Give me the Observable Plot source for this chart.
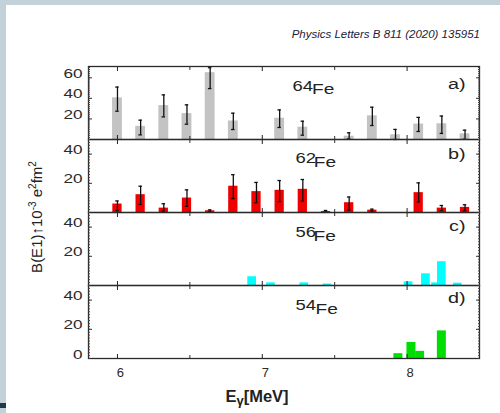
<!DOCTYPE html>
<html>
<head>
<meta charset="utf-8">
<script src="https://cdn.jsdelivr.net/npm/d3@7"></script>
<script src="https://cdn.jsdelivr.net/npm/@observablehq/plot@0.6"></script>
<style>
  html, body { margin: 0; padding: 0; }
  body { width: 500px; height: 413px; position: relative; overflow: hidden; background: #c3d1d8;
         font-family: "Liberation Sans", Arial, sans-serif; }
  #page { position: absolute; left: 6px; top: 5px; right: 0; bottom: 0; background: #fff; }
  #strip { position: absolute; left: 0; top: 403px; width: 6px; height: 5px; background: #1d3a4a; }
  .panel { position: absolute; left: 0; }
  #overlay { position: absolute; left: 0; top: 0; }
</style>
</head>
<body>
<div id="page"></div>
<div id="strip"></div>
<div id="charts"></div>
<svg id="overlay" width="500" height="413" xmlns="http://www.w3.org/2000/svg"></svg>
<script>
// ---------- data ----------
const energyGrid = [6.00, 6.16, 6.32, 6.48, 6.64, 6.80, 6.96, 7.12, 7.28, 7.44, 7.60, 7.76, 7.92, 8.08, 8.24, 8.40];

const fe64Value = [40.5, 12.8, 33.0, 25.2, 65.0, 18.0, null, 20.7, 12.0, null, 3.2, 23.0, 4.6, 15.0, 15.3, 5.5];
const fe64Low   = [27.5,  4.5, 22.0, 14.9, 49.5,  9.7, null, 11.7,  4.2, null, 0.6, 13.6, 0.0,  7.8,  5.9, 0.3];
const fe64High  = [51.0, 18.8, 43.4, 33.7, 69.8, 25.6, null, 28.8, 17.8, null, 6.5, 31.4, 9.8, 21.5, 22.8, 9.1];

const fe62Value = [5.8, 12.2, 3.0,  9.9, 1.2, 18.0, 14.3, 15.2, 15.9, 0.7,  6.7, 1.6, null, 13.6, 3.0, 3.5];
const fe62Low   = [1.4,  5.5, 1.0,  4.2, 0.5,  9.5,  6.7,  7.4,  7.9, 0.2,  1.6, 1.0, null,  7.2, 1.2, 1.2];
const fe62High  = [7.9, 18.0, 6.0, 15.5, 1.8, 25.9, 20.6, 21.9, 22.6, 1.4, 10.6, 2.3, null, 20.3, 4.8, 5.3];

const fe56Energy = [6.93, 7.06, 7.29, 7.45, 8.01, 8.13, 8.20, 8.24, 8.35];
const fe56Value  = [6.0,  1.8,  1.8,  1.0,  2.5,  8.0,  1.8, 16.3, 1.6];

const fe54Energy = [7.94, 8.03, 8.09, 8.24];
const fe54Value  = [3.3, 11.0,  4.9, 18.9];

const xDomain = [5.8, 8.5];
const xTicks = [6, 7, 8];
const xMinorTicks = [6.5, 7.5];
const yTicksA = [20, 40, 60];
const yTicksB = [20, 40];
const yTicksC = [20, 40];
const yTicksD = [0, 20, 40];

const panelNames = ["a)", "b)", "c)", "d)"];
const massNumbers = ["64", "62", "56", "54"];
const element = "Fe";

// ---------- rows ----------
function gridRows(vals, lo, hi) {
  return energyGrid.map((e, i) => ({e, v: vals[i], lo: lo ? lo[i] : null, hi: hi ? hi[i] : null}))
                   .filter(d => d.v != null);
}
function listRows(es, vals) { return es.map((e, i) => ({e, v: vals[i]})); }

const FONT = "'Liberation Sans', Arial, Helvetica, sans-serif";
const STRETCH = 1.32;

function tickOnlyY(anchor, ticks, size, stroke) {
  return Plot.axisY({anchor, ticks, tickSize: size, fill: "none", label: null, stroke});
}
function tickOnlyX(anchor, ticks, size, stroke) {
  return Plot.axisX({anchor, ticks, tickSize: size, fill: "none", label: null, stroke});
}

function panel(cfg) {
  const {rows, color, hw, yMax, yTicks, errors, last, lab} = cfg;
  const capHw = 0.012;
  const marks = [
    Plot.rect(rows, {x1: d => d.e - hw, x2: d => d.e + hw, y1: 0, y2: "v", fill: color}),
  ];
  if (errors) {
    marks.push(
      Plot.ruleX(rows, {x: "e", y1: "lo", y2: "hi", stroke: "#111", strokeWidth: 1.3}),
      Plot.ruleY(rows, {y: "lo", x1: d => d.e - capHw, x2: d => d.e + capHw, stroke: "#111", strokeWidth: 1.3}),
      Plot.ruleY(rows, {y: "hi", x1: d => d.e - capHw, x2: d => d.e + capHw, stroke: "#111", strokeWidth: 1.3})
    );
  }
  const minorY = d3.range(0, yMax + 0.01, 2);
  marks.push(
    Plot.frame({stroke: "#2a2a2a", strokeWidth: 1.3}),
    tickOnlyY("left", minorY, -2, "#444"),
    tickOnlyY("right", minorY, -2, "#444"),
    tickOnlyY("left", yTicks, -4, "#333"),
    tickOnlyY("right", yTicks, -4, "#333"),
    Plot.axisY({anchor: "left", ticks: yTicks, tickSize: 0, tickPadding: 6, tickFormat: d => String(d), label: null, fill: "#2a2a2a", fontSize: 13}),
    tickOnlyX("top", xTicks, -4, "#222"),
    tickOnlyX("bottom", xTicks, -4, "#222"),
    tickOnlyX("top", xMinorTicks, -3, "#333"),
    tickOnlyX("bottom", xMinorTicks, -3, "#333"),
    Plot.text([lab.mass], {frameAnchor: "top-left", dx: lab.massX - 88, dy: lab.massDy, textAnchor: "start", lineAnchor: "bottom", fontSize: 14, fill: "#222", text: d => d}),
    Plot.text([element], {frameAnchor: "top-left", dx: lab.feX - 88, dy: lab.feDy, textAnchor: "start", lineAnchor: "bottom", fontSize: 14.5, fill: "#222", text: d => d}),
    Plot.text([lab.letter], {frameAnchor: "top-right", dx: -14, dy: lab.letterDy, textAnchor: "end", lineAnchor: "bottom", fontSize: 15, fill: "#222", text: d => d})
  );
  if (last) {
    marks.push(Plot.axisX({anchor: "bottom", ticks: xTicks, tickSize: 0, tickPadding: 9, dx: 3, tickFormat: d => String(d), label: null, fill: "#2a2a2a", fontSize: 13}));
  }
  const svg = Plot.plot({
    width: 500,
    height: 73 + (last ? 30 : 0),
    marginLeft: 88, marginRight: 21, marginTop: 0, marginBottom: last ? 30 : 0,
    x: {domain: xDomain},
    y: {domain: [0, yMax]},
    style: {fontFamily: FONT, background: "transparent", overflow: "visible"},
    marks
  });
  // horizontal stretch of the glyphs, as in the reference
  svg.querySelectorAll("text").forEach(t => {
    const g = t.closest("g[aria-label]");
    if (g && /^x-axis/.test(g.getAttribute("aria-label"))) return;
    let tr = t.getAttribute("transform") || "";
    const x = t.getAttribute("x"), y = t.getAttribute("y");
    if (x != null || y != null) {
      tr += ` translate(${+x || 0},${+y || 0})`;
      t.removeAttribute("x"); t.removeAttribute("y");
    }
    t.setAttribute("transform", (tr + ` scale(${STRETCH},1)`).trim());
  });
  const div = document.createElement("div");
  div.className = "panel";
  div.style.top = cfg.top + "px";
  div.appendChild(svg);
  document.getElementById("charts").appendChild(div);
}

panel({rows: gridRows(fe64Value, fe64Low, fe64High), color: "#c3c3c3", hw: 0.034, yMax: 71, yTicks: yTicksA, errors: true, top: 66,
       lab: {mass: massNumbers[0], massX: 292, massDy: 24, feX: 311.5, feDy: 27.5, letter: panelNames[0], letterDy: 22.5}});
panel({rows: gridRows(fe62Value, fe62Low, fe62High), color: "#f00000", hw: 0.032, yMax: 50, yTicks: yTicksB, errors: true, top: 139,
       lab: {mass: massNumbers[1], massX: 295, massDy: 23.7, feX: 313.3, feDy: 27.7, letter: panelNames[1], letterDy: 19.5}});
panel({rows: listRows(fe56Energy, fe56Value), color: "#00ffff", hw: 0.03, yMax: 50, yTicks: yTicksC, errors: false, top: 212,
       lab: {mass: massNumbers[2], massX: 295, massDy: 24.7, feX: 313, feDy: 28.7, letter: panelNames[2], letterDy: 18.5}});
panel({rows: listRows(fe54Energy, fe54Value), color: "#00dd00", hw: 0.031, yMax: 50, yTicks: yTicksD, errors: false, top: 285, last: true,
       lab: {mass: massNumbers[3], massX: 295, massDy: 24.3, feX: 315, feDy: 28.3, letter: panelNames[3], letterDy: 17}});

// ---------- titles ----------
const ov = document.getElementById("overlay");
ov.innerHTML = `
  <text x="480" y="38" text-anchor="end" font-family="'Liberation Sans', Arial, sans-serif" font-style="italic" font-size="11.5" fill="#1c2039">Physics Letters B 811 (2020) 135951</text>
  <text transform="translate(41.5,217) rotate(-90)" text-anchor="middle" font-family="'Liberation Sans', Arial, sans-serif" font-size="15" fill="#222">B(E1)↑10<tspan dy="-6" font-size="10">-3</tspan><tspan dy="6"> e</tspan><tspan dy="-6" font-size="10">2</tspan><tspan dy="6">fm</tspan><tspan dy="-6" font-size="10">2</tspan></text>
  <text x="257" y="402" text-anchor="middle" font-family="'Liberation Sans', Arial, sans-serif" font-weight="bold" font-size="16.5" fill="#222">E<tspan dy="3" font-size="13">γ</tspan><tspan dy="-3">[MeV]</tspan></text>
`;
</script>
</body>
</html>
